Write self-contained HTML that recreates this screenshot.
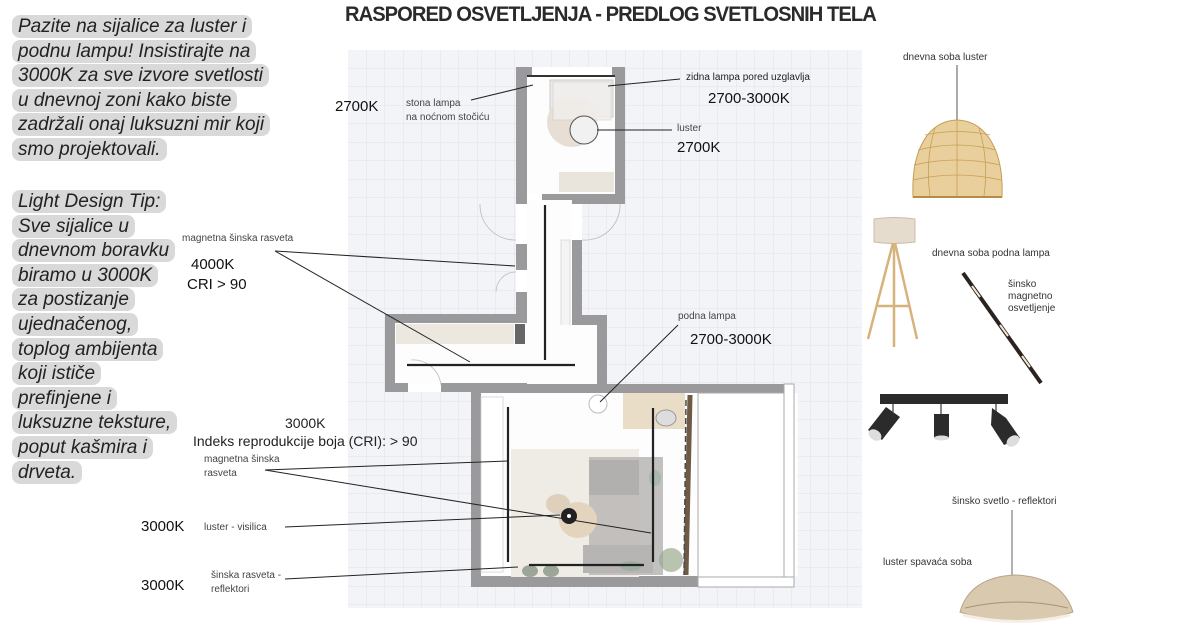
<!DOCTYPE html>
<html><head><meta charset="utf-8">
<style>
body{margin:0;width:1200px;height:630px;background:#fff;position:relative;overflow:hidden;font-family:"Liberation Sans",sans-serif;}
.tip{position:absolute;left:12px;font-style:italic;font-size:19px;line-height:24.6px;color:#222;}
.tip span{background:#d9d9d9;padding:1px 6px;border-radius:8px;-webkit-box-decoration-break:clone;box-decoration-break:clone;}
.t{position:absolute;white-space:nowrap;color:#222;}
.s{font-size:10px;color:#444;}
.k{font-size:15px;color:#111;}
</style></head><body>
<svg width="1200" height="630" style="position:absolute;left:0;top:0">
<defs>
<pattern id="g" width="18.5" height="18.5" patternUnits="userSpaceOnUse" x="348" y="50">
<path d="M18.5 0V18.5H0" fill="none" stroke="#dfe2ea" stroke-width="1"/>
</pattern>
</defs>
<rect x="348" y="50" width="514" height="558" fill="#f3f4f8"/>
<rect x="348" y="50" width="514" height="558" fill="url(#g)"/>
<!-- bedroom -->
<rect x="516" y="67" width="109" height="137" fill="#9a9a9c"/>
<rect x="527" y="76" width="88" height="118" fill="#fdfdfe"/>
<rect x="532" y="67" width="80" height="9" fill="#fff"/>
<rect x="527" y="75" width="88" height="2" fill="#333"/>
<rect x="550" y="80" width="63" height="37" fill="#eceae6" stroke="#ccc"/>
<ellipse cx="572" cy="122" rx="25" ry="25" fill="#e7dfd3"/>
<rect x="553" y="82" width="58" height="38" fill="#f1f0ee" stroke="#ccc" stroke-width=".7" opacity=".8"/>
<circle cx="584" cy="130" r="14" fill="#f1f1f1" stroke="#555"/>
<rect x="559" y="172" width="55" height="20" fill="#e9e4dc"/>
<rect x="527" y="194" width="15" height="10" fill="#fff"/>
<!-- hallway -->
<rect x="516" y="204" width="11" height="110" fill="#9a9a9c"/>
<rect x="516" y="204" width="11" height="40" fill="#fff"/>
<rect x="516" y="270" width="11" height="22" fill="#fff"/>
<rect x="527" y="200" width="45" height="190" fill="#fdfdfe"/>
<rect x="572" y="240" width="10" height="85" fill="#9a9a9c"/>
<rect x="572" y="204" width="10" height="36" fill="#fff"/>
<rect x="582" y="315" width="25" height="10" fill="#9a9a9c"/>
<rect x="597" y="315" width="10" height="75" fill="#9a9a9c"/>
<rect x="572" y="325" width="25" height="60" fill="#fdfdfe"/>
<rect x="561" y="240" width="9" height="90" fill="#f4f4f4" stroke="#ddd"/>
<path d="M480 204 A35 35 0 0 0 516 240" fill="none" stroke="#bbb" stroke-width=".8"/>
<path d="M620 204 A35 35 0 0 1 582 240" fill="none" stroke="#bbb" stroke-width=".8"/>
<path d="M516 272 A20 20 0 0 0 496 292" fill="none" stroke="#bbb" stroke-width=".8"/>
<!-- L part -->
<rect x="385" y="314" width="142" height="78" fill="#9a9a9c"/>
<rect x="395" y="323" width="132" height="60" fill="#fdfdfe"/>
<rect x="396" y="324" width="118" height="20" fill="#ece7df"/>
<rect x="515" y="324" width="10" height="20" fill="#666"/>
<rect x="408" y="383" width="33" height="9" fill="#fff"/>
<path d="M411 360 A28 28 0 0 1 441 385" fill="none" stroke="#bbb" stroke-width=".8"/>
<rect x="527" y="325" width="70" height="60" fill="#fdfdfe"/>
<!-- living room -->
<rect x="471" y="384" width="323" height="203" fill="#9a9a9c"/>
<rect x="481" y="393" width="317" height="183" fill="#fdfdfe"/>
<rect x="698" y="393" width="86" height="184" fill="#fff" stroke="#aaa"/>
<rect x="784" y="384" width="10" height="203" fill="#fff" stroke="#aaa"/>
<rect x="698" y="577" width="96" height="10" fill="#fff" stroke="#aaa"/>
<rect x="481" y="397" width="22" height="175" fill="#fff" stroke="#ccc" stroke-width=".7"/>
<rect x="511" y="449" width="128" height="128" fill="#efece6"/>
<rect x="589" y="457" width="74" height="118" fill="#bcbab8" opacity=".9"/>
<rect x="589" y="460" width="50" height="35" fill="#b2b0ae"/>
<rect x="583" y="545" width="70" height="28" fill="#b7b5b3"/>
<ellipse cx="578" cy="520" rx="19" ry="18" fill="#e4d3bd"/>
<ellipse cx="558" cy="504" rx="12" ry="10" fill="#ded0bb"/>
<rect x="623" y="393" width="62" height="36" fill="#e9ddc7"/>
<ellipse cx="666" cy="418" rx="10" ry="8" fill="#ddd" stroke="#999"/>
<path d="M690 395 L686 575" stroke="#6e5a45" stroke-width="5"/>
<path d="M686 400 L684 575" stroke="#4a4a4a" stroke-width="1.5" stroke-dasharray="6 3"/>
<ellipse cx="530" cy="571" rx="8" ry="6" fill="#9ba598"/>
<ellipse cx="551" cy="571" rx="8" ry="6" fill="#9ba598"/>
<ellipse cx="631" cy="566" rx="11" ry="5" fill="#9fb0a3"/>
<ellipse cx="655" cy="478" rx="6" ry="8" fill="#a8b8ae"/>
<circle cx="671" cy="560" r="12" fill="#9aa98e" opacity=".7"/>
<circle cx="598" cy="404" r="9" fill="#fff" stroke="#bbb"/>
<circle cx="569" cy="516" r="8" fill="#222"/>
<circle cx="569" cy="516" r="2" fill="#fff"/>
<!-- tracks -->
<g stroke="#222" stroke-width="2.2">
<line x1="545" y1="205" x2="545" y2="360"/>
<line x1="407" y1="365" x2="575" y2="365"/>
<line x1="508" y1="407" x2="508" y2="562"/>
<line x1="653" y1="408" x2="653" y2="562"/>
<line x1="529" y1="565" x2="644" y2="565"/>
</g>
<!-- leader lines -->
<g stroke="#222" stroke-width="1" fill="none">
<line x1="471" y1="100" x2="533" y2="85"/>
<line x1="680" y1="79" x2="608" y2="86"/>
<line x1="672" y1="130" x2="597" y2="130"/>
<line x1="275" y1="251" x2="515" y2="266"/>
<line x1="275" y1="251" x2="470" y2="362"/>
<line x1="678" y1="325" x2="600" y2="402"/>
<line x1="265" y1="470" x2="508" y2="461"/>
<line x1="265" y1="470" x2="651" y2="533"/>
<line x1="285" y1="527" x2="560" y2="515"/>
<line x1="285" y1="579" x2="518" y2="567"/>
</g>
<!-- products -->
<line x1="957" y1="65" x2="957" y2="122" stroke="#555"/>
<path d="M913 197 C911 150 928 121 957 120 C986 121 1004 150 1002 197 Z" fill="#e8cf9c" stroke="#c79d55"/>
<g stroke="#c79d55" stroke-width=".8" fill="none">
<path d="M918 150 Q957 140 996 150"/><path d="M914 165 Q957 155 1000 165"/><path d="M913 180 Q957 170 1001 180"/><path d="M925 135 Q957 128 990 135"/>
<path d="M935 128 Q925 160 930 196"/><path d="M957 121 L957 196"/><path d="M979 128 Q989 160 984 196"/>
</g>
<line x1="913" y1="197" x2="1002" y2="197" stroke="#b88a45" stroke-width="2"/>
<path d="M874 219 L874 242 Q894 245 915 242 L915 219 Q894 216 874 219Z" fill="#e6dccd" stroke="#c9bca8"/>
<g stroke="#d7b37c" stroke-width="2.5"><line x1="893" y1="243" x2="868" y2="339"/><line x1="895" y1="243" x2="917" y2="339"/><line x1="894" y1="243" x2="894" y2="347"/><line x1="878" y1="306" x2="910" y2="306"/></g>
<line x1="963" y1="273" x2="1041" y2="383" stroke="#2a2320" stroke-width="4"/>
<g stroke="#f5e8d0" stroke-width="2"><line x1="972" y1="286" x2="980" y2="297"/><line x1="1000" y1="325" x2="1008" y2="336"/><line x1="1022" y1="356" x2="1030" y2="367"/></g>
<rect x="880" y="394" width="128" height="10" fill="#2b2b2b"/>
<g fill="#2b2b2b">
<line x1="893" y1="404" x2="893" y2="412" stroke="#888" stroke-width="2"/>
<polygon points="886,407 900,417 882,440 868,430"/>
<ellipse cx="875" cy="435" rx="7" ry="5" transform="rotate(35 875 435)" fill="#ddd"/>
<line x1="941" y1="404" x2="941" y2="414" stroke="#888" stroke-width="2"/>
<rect x="934" y="414" width="15" height="24"/>
<ellipse cx="941.5" cy="438" rx="7.5" ry="2.5" fill="#ddd"/>
<line x1="996" y1="404" x2="996" y2="412" stroke="#888" stroke-width="2"/>
<polygon points="992,408 1006,418 1020,438 1004,445 991,425"/>
<ellipse cx="1013" cy="441" rx="7" ry="5" transform="rotate(-35 1013 441)" fill="#ddd"/>
</g>
<line x1="1012" y1="510" x2="1012" y2="578" stroke="#666"/>
<path d="M960 612 Q970 577 1015 575 Q1062 577 1073 612 Q1017 632 960 612Z" fill="#d9c9ae" stroke="#b9a585"/>
<path d="M965 608 Q1017 596 1068 608" stroke="#a89374" fill="none"/>
<path d="M963 615 Q1017 628 1070 615" stroke="#f4efe6" stroke-width="3" fill="none"/>
</svg>

<div class="t" style="left:345px;top:3px;font-size:21px;font-weight:bold;color:#2a2a2a;letter-spacing:-1px;transform:scaleX(.96);transform-origin:left">RASPORED OSVETLJENJA - PREDLOG SVETLOSNIH TELA</div>

<div class="tip" style="top:15px"><span>Pazite na sijalice za luster i</span><br><span>podnu lampu! Insistirajte na</span><br><span>3000K za sve izvore svetlosti</span><br><span>u dnevnoj zoni kako biste</span><br><span>zadržali onaj luksuzni mir koji</span><br><span>smo projektovali.</span></div>
<div class="tip" style="top:190px"><span>Light Design Tip:</span><br><span>Sve sijalice u</span><br><span>dnevnom boravku</span><br><span>biramo u 3000K</span><br><span>za postizanje</span><br><span>ujednačenog,</span><br><span>toplog ambijenta</span><br><span>koji ističe</span><br><span>prefinjene i</span><br><span>luksuzne teksture,</span><br><span>poput kašmira i</span><br><span>drveta.</span></div>

<div class="t k" style="left:335px;top:98px">2700K</div>
<div class="t s" style="left:406px;top:97px;line-height:14px">stona lampa<br>na noćnom stočiću</div>
<div class="t s" style="left:686px;top:72px;color:#222">zidna lampa pored uzglavlja</div>
<div class="t k" style="left:708px;top:90px">2700-3000K</div>
<div class="t s" style="left:677px;top:123px">luster</div>
<div class="t k" style="left:677px;top:139px">2700K</div>
<div class="t s" style="left:182px;top:233px">magnetna šinska rasveta</div>
<div class="t k" style="left:191px;top:256px">4000K</div>
<div class="t k" style="left:187px;top:276px">CRI &gt; 90</div>
<div class="t s" style="left:678px;top:311px">podna lampa</div>
<div class="t k" style="left:690px;top:331px">2700-3000K</div>
<div class="t" style="left:285px;top:415px;font-size:14px">3000K</div>
<div class="t" style="left:193px;top:433px;font-size:14px">Indeks reprodukcije boja (CRI): &gt; 90</div>
<div class="t s" style="left:204px;top:453px;line-height:14px">magnetna šinska<br>rasveta</div>
<div class="t k" style="left:141px;top:518px">3000K</div>
<div class="t s" style="left:204px;top:522px">luster - visilica</div>
<div class="t k" style="left:141px;top:577px">3000K</div>
<div class="t s" style="left:211px;top:569px;line-height:14px">šinska rasveta -<br>reflektori</div>

<div class="t s" style="left:903px;top:52px;color:#333">dnevna soba luster</div>
<div class="t s" style="left:932px;top:248px;color:#333">dnevna soba podna lampa</div>
<div class="t s" style="left:1008px;top:279px;color:#333;line-height:12px">šinsko<br>magnetno<br>osvetljenje</div>
<div class="t s" style="left:952px;top:496px;color:#333">šinsko svetlo - reflektori</div>
<div class="t s" style="left:883px;top:557px;color:#333">luster spavaća soba</div>
</body></html>
